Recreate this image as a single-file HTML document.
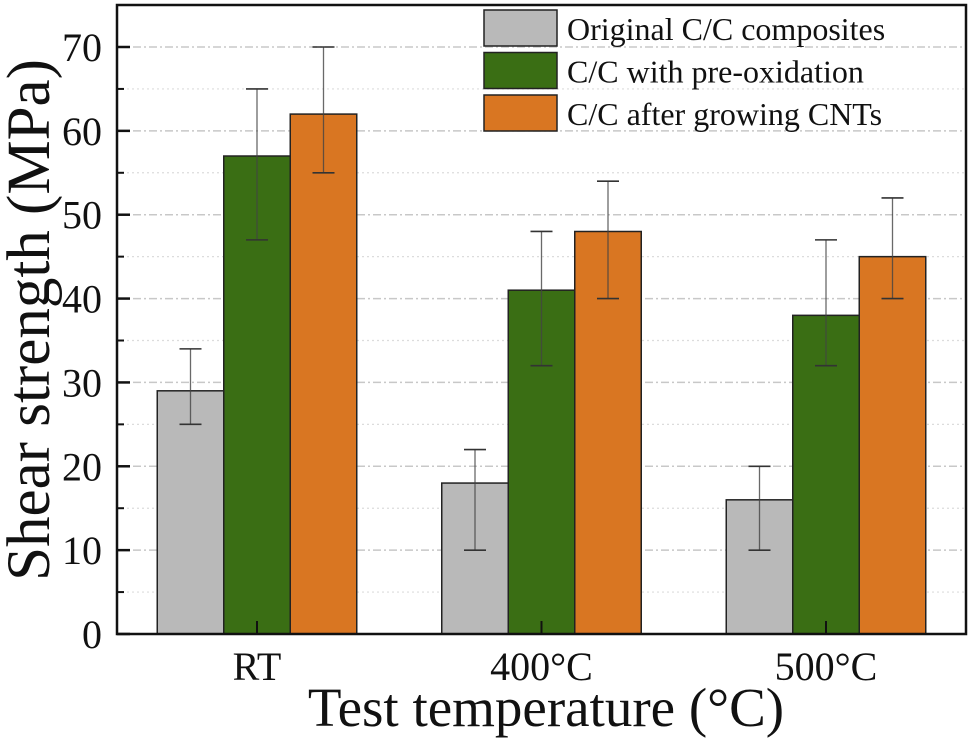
<!DOCTYPE html>
<html><head><meta charset="utf-8"><style>
html,body{margin:0;padding:0;background:#fff;}
svg text{font-family:"Liberation Serif",serif;}
</style></head><body>
<svg id="chart" width="974" height="741" viewBox="0 0 974 741" xmlns="http://www.w3.org/2000/svg">
<g id="grid"></g><g id="bars"></g><g id="errs"></g><g id="axes"></g><g id="legend"></g>
</svg>
<script>
const categories = ["RT", "400°C", "500°C"];
const seriesNames = ["Original C/C composites", "C/C with pre-oxidation", "C/C after growing CNTs"];
const seriesColors = ["#b9b9b9", "#3a6e14", "#d97622"];
const values = [[29, 18, 16], [57, 41, 38], [62, 48, 45]];
const errLow = [[25, 10, 10], [47, 32, 32], [55, 40, 40]];
const errHigh = [[34, 22, 20], [65, 48, 47], [70, 54, 52]];
const yTicks = [0, 10, 20, 30, 40, 50, 60, 70];
const yMinor = [5, 15, 25, 35, 45, 55, 65];

const NS = "http://www.w3.org/2000/svg";
const L = 117, R = 966, T = 5, B = 634;
const y = v => B - v * (B - 47) / 70;
const x = i => 257 + i * 284.5;
const BW = 66.5;
function el(tag, attrs, parent, txt) {
  const e = document.createElementNS(NS, tag);
  for (const k in attrs) e.setAttribute(k, attrs[k]);
  if (txt !== undefined) e.textContent = txt;
  document.getElementById(parent).appendChild(e);
  return e;
}
yTicks.forEach(v => {
  if (v > 0) {
    const g = el("line", {x1: L, x2: R, y1: y(v), y2: y(v), stroke: "#c8c8c8", "stroke-width": 1.5, "stroke-dasharray": "8 3 2 3"}, "grid");
    
    
  }
});
yMinor.forEach(v => {
  const g = el("line", {x1: L, x2: R, y1: y(v), y2: y(v), stroke: "#dcdcdc", "stroke-width": 1.2, "stroke-dasharray": "2 3"}, "grid");
  
  
});
values.forEach((ser, s) => {
  ser.forEach((v, c) => {
    const bx = x(c) + (s - 1) * BW - BW / 2;
    const r = el("rect", {x: bx, y: y(v), width: BW, height: B - y(v), fill: seriesColors[s], stroke: "#222", "stroke-width": 1.5}, "bars");
    
    
    const cx = bx + BW / 2;
    const e1 = el("line", {x1: cx, x2: cx, y1: y(errLow[s][c]), y2: y(errHigh[s][c]), stroke: "#444", "stroke-width": 1.3, "stroke-opacity": 0.8}, "errs");
    
    
    [errLow[s][c], errHigh[s][c]].forEach(ev => {
      const cap = el("line", {x1: cx - 11, x2: cx + 11, y1: y(ev), y2: y(ev), stroke: "#333", "stroke-width": 1.6}, "errs");
      
      
    });
  });
});
const frame = el("rect", {x: L, y: T, width: R - L, height: B - T, fill: "none", stroke: "#111", "stroke-width": 2.5}, "axes");


yTicks.forEach(v => {
  const t = el("line", {x1: L, x2: L + 13, y1: y(v), y2: y(v), stroke: "#111", "stroke-width": 2.5}, "axes");
  
  
  const lb = el("text", {x: 102, y: y(v) + 14, "text-anchor": "end", "font-size": 40, fill: "#111"}, "axes", String(v));
  
  
});
yMinor.forEach(v => {
  const t = el("line", {x1: L, x2: L + 7, y1: y(v), y2: y(v), stroke: "#111", "stroke-width": 2}, "axes");
  
  
});
categories.forEach((c, i) => {
  const t = el("line", {x1: x(i), x2: x(i), y1: B, y2: B - 13, stroke: "#111", "stroke-width": 2}, "axes");
  
  
  const lb = el("text", {x: x(i), y: 680, "text-anchor": "middle", "font-size": 40, fill: "#111"}, "axes", c);
  
  
});
const xt = el("text", {x: 546, y: 726, "text-anchor": "middle", "font-size": 55, fill: "#111"}, "axes", "Test temperature (°C)");


const yt = el("text", {x: 0, y: 0, "text-anchor": "middle", "font-size": 61, fill: "#111", transform: "translate(49,320) rotate(-90)"}, "axes", "Shear strength (MPa)");


seriesNames.forEach((n, s) => {
  const ty = 10 + s * 42.5;
  const sw = el("rect", {x: 484, y: ty, width: 73, height: 36, fill: seriesColors[s], stroke: "#222", "stroke-width": 1.5}, "legend");
  
  
  const lt = el("text", {x: 567, y: ty + 30, "font-size": 32, fill: "#111"}, "legend", n);
  
  
});
</script>
</body></html>
